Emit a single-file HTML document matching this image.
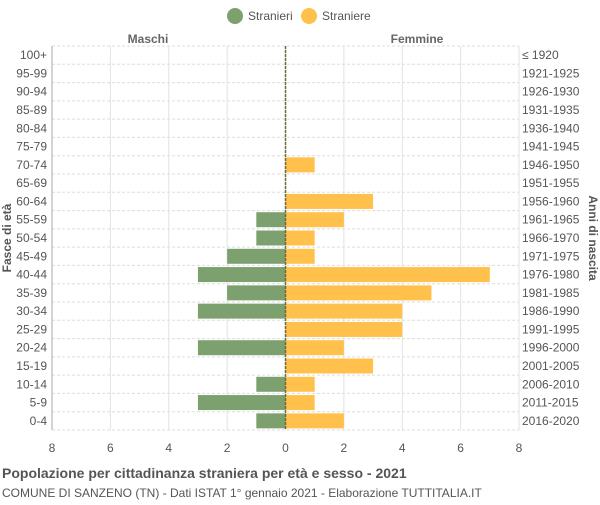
<!DOCTYPE html>
<html><head><meta charset="utf-8"><style>
body{margin:0;background:#fff;font-family:"Liberation Sans",sans-serif}
svg text{font-family:"Liberation Sans",sans-serif}
</style></head><body>
<svg id="c" width="600" height="500" xmlns="http://www.w3.org/2000/svg">
<g>
<circle cx="235" cy="16" r="8" fill="#7da06f"/>
<text x="248" y="20" font-size="12" fill="#555">Stranieri</text>
<circle cx="309" cy="16" r="8" fill="#ffc04c"/>
<text x="322" y="20" font-size="12" fill="#555">Straniere</text>
</g>
<text x="148" y="43" font-size="12" font-weight="bold" fill="#666" text-anchor="middle">Maschi</text>
<text x="417" y="43" font-size="12" font-weight="bold" fill="#666" text-anchor="middle">Femmine</text>
<g id="grid"></g><g id="bars"></g><g id="labels"></g>
<text transform="translate(11,238) rotate(-90)" font-size="12" font-weight="bold" fill="#555" text-anchor="middle">Fasce di età</text>
<text transform="translate(589,238) rotate(90)" font-size="12" font-weight="bold" fill="#555" text-anchor="middle">Anni di nascita</text>
<text x="2" y="478" font-size="14" font-weight="bold" fill="#555">Popolazione per cittadinanza straniera per età e sesso - 2021</text>
<text x="2" y="497" font-size="12" fill="#555">COMUNE DI SANZENO (TN) - Dati ISTAT 1° gennaio 2021 - Elaborazione TUTTITALIA.IT</text>
</svg>
<script>
const ageGroups=["100+","95-99","90-94","85-89","80-84","75-79","70-74","65-69","60-64","55-59","50-54","45-49","40-44","35-39","30-34","25-29","20-24","15-19","10-14","5-9","0-4"];
const birthYears=["≤ 1920","1921-1925","1926-1930","1931-1935","1936-1940","1941-1945","1946-1950","1951-1955","1956-1960","1961-1965","1966-1970","1971-1975","1976-1980","1981-1985","1986-1990","1991-1995","1996-2000","2001-2005","2006-2010","2011-2015","2016-2020"];
const males=[0,0,0,0,0,0,0,0,0,1,1,2,3,2,3,0,3,0,1,3,1];
const females=[0,0,0,0,0,0,1,0,3,2,1,1,7,5,4,4,2,3,1,1,2];
const xTicks=[8,6,4,2,0,2,4,6,8];
const NS="http://www.w3.org/2000/svg";
const L=52,R=519,T=46,B=430,C=285.5,U=(R-L)/16,RH=(B-T)/ageGroups.length;
const xm=v=>C-v*U, xf=v=>C+v*U, yr=i=>T+i*RH;
function mk(p,t,a){const e=document.createElementNS(NS,t);for(const k in a)e.setAttribute(k,a[k]);document.getElementById(p).appendChild(e);return e;}
for(let i=0;i<=ageGroups.length;i++){const l=mk('grid','line',{x1:L,x2:R,y1:yr(i),y2:yr(i),stroke:'#ddd','stroke-dasharray':'3,2'});

}
xTicks.forEach((t,j)=>{const x=L+j*2*U;const l=mk('grid','line',{x1:x,x2:x,y1:T,y2:B,stroke:j==0?'#aaa':'#e2e2e2'});


const tx=mk('labels','text',{x:x,y:452,'font-size':12,fill:'#555','text-anchor':'middle'});tx.textContent=t;

});
ageGroups.forEach((g,i)=>{const yc=yr(i)+RH/2;
if(males[i]>0){const b=mk('bars','rect',{x:xm(males[i]),y:yc-7.5,width:males[i]*U,height:15,fill:'#7da06f'});

}
if(females[i]>0){const b=mk('bars','rect',{x:C,y:yc-7.5,width:females[i]*U,height:15,fill:'#ffc04c'});

}
const a=mk('labels','text',{x:47,y:yc+4,'font-size':12,fill:'#555','text-anchor':'end'});a.textContent=g;


const b2=mk('labels','text',{x:522,y:yc+4,'font-size':12,fill:'#555'});b2.textContent=birthYears[i];

});
const cl=mk('bars','line',{x1:C,x2:C,y1:T,y2:B,stroke:'#6b6b3a','stroke-dasharray':'3,1','stroke-width':1.5});


</script>
</body></html>
